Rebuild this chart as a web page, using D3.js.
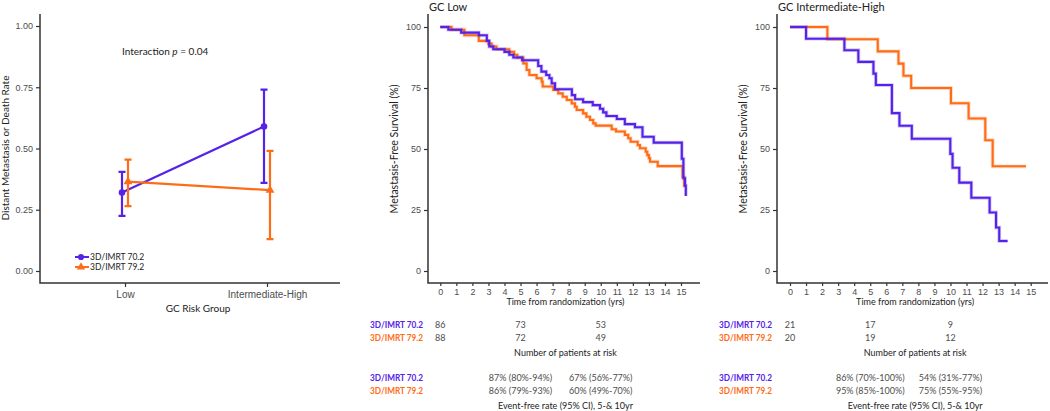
<!DOCTYPE html>
<html>
<head>
<meta charset="utf-8">
<script src="https://cdn.jsdelivr.net/npm/d3@7"></script>
<style>
  body { margin: 0; background: #fff; }
  svg { font-family: Lato, "Open Sans", sans-serif; }
</style>
</head>
<body>
<div id="chart"></div>
<script>
// Panel A: DM-or-death rate by GC risk group
const groups = ['Low', 'Intermediate-High'];
const rate702 = [0.32, 0.59];
const lo702 = [0.225, 0.36];
const hi702 = [0.405, 0.74];
const rate792 = [0.365, 0.33];
const lo792 = [0.265, 0.13];
const hi792 = [0.455, 0.49];
const rateTicks = [0, 0.25, 0.5, 0.75, 1];

// Panel B: GC Low, Kaplan-Meier steps (years, %)
const lowT702 = [0, 0.5, 1.3, 2.4, 2.9, 3.05, 3.3, 4.0, 4.3, 4.55, 5.1, 6.1, 6.3, 6.6, 6.8, 6.94, 7.15, 8.2, 8.4, 8.9, 9.5, 9.95, 10.15, 10.35, 11.0, 11.5, 12.13, 12.6, 13.3, 15.05, 15.15, 15.25, 15.3];
const lowS702 = [100, 98.9, 97.7, 96.6, 94.3, 92.0, 90.9, 89.8, 88.6, 87.5, 86.4, 84.0, 81.7, 80.3, 79.0, 76.9, 74.5, 72.1, 70.4, 69.2, 68.0, 66.5, 65.0, 63.5, 62.3, 60.2, 58.9, 55.0, 52.6, 46.0, 38.0, 35.0, 30.7];
const lowT792 = [0, 0.7, 1.5, 2.4, 3.0, 3.2, 3.5, 4.3, 4.6, 4.8, 5.17, 5.38, 5.55, 6.0, 6.32, 6.38, 7.04, 7.35, 7.63, 7.88, 8.19, 8.39, 8.5, 8.9, 9.1, 9.33, 9.53, 9.68, 10.68, 10.95, 11.5, 11.71, 11.86, 12.3, 12.44, 12.8, 12.9, 13.0, 13.07, 13.55, 15.1, 15.2, 15.25];
const lowS792 = [100, 98.9, 96.6, 94.3, 93.2, 92.0, 90.9, 89.8, 88.6, 87.5, 85.1, 82.4, 80.3, 79.0, 77.6, 75.6, 74.2, 72.8, 71.4, 70.1, 68.7, 67.3, 66.0, 64.6, 63.2, 61.9, 60.5, 59.6, 58.1, 57.2, 55.8, 54.4, 53.0, 51.6, 50.3, 48.9, 47.5, 46.2, 44.8, 43.0, 38.5, 35.0, 35.0];

// Panel C: GC Intermediate-High
const ihT702 = [0, 1.0, 3.39, 4.26, 5.2, 5.35, 6.35, 6.82, 7.59, 9.99, 10.13, 10.55, 11.3, 12.44, 12.84, 13.04, 13.56];
const ihS702 = [100, 95.2, 90.5, 85.7, 80.9, 76.2, 64.7, 59.5, 54.2, 48.0, 42.3, 36.2, 30.0, 24.0, 17.8, 12.3, 12.3];
const ihT792 = [0, 2.33, 5.47, 6.76, 7.07, 7.55, 10.03, 11.13, 12.17, 12.63, 14.71];
const ihS792 = [100, 95.0, 90.0, 85.0, 80.0, 75.0, 68.75, 62.5, 53.6, 42.9, 42.9];

const survTicks = [0, 25, 50, 75, 100];
const yearTicks = d3.range(0, 16);

// risk table + event-free rates
const riskTimes = [0, 5, 10];
const lowRisk702 = [86, 73, 53];
const lowRisk792 = [88, 72, 49];
const ihRisk702 = [21, 17, 9];
const ihRisk792 = [20, 19, 12];
const efsTimes = [5, 10];
const lowEfs702 = ['87% (80%-94%)', '67% (56%-77%)'];
const lowEfs792 = ['86% (79%-93%)', '60% (49%-70%)'];
const ihEfs702 = ['86% (70%-100%)', '54% (31%-77%)'];
const ihEfs792 = ['95% (85%-100%)', '75% (55%-95%)'];

const arms = ['3D/IMRT 70.2', '3D/IMRT 79.2'];
const BLUE = '#5522e8';
const ORANGE = '#ff6c17';
const AXIS = '#333';
const TICKTXT = '#4d4d4d';

const svg = d3.select('#chart').append('svg').attr('width', 1050).attr('height', 411);

function styleAxis(g) {
  g.select('.domain').remove();
  g.selectAll('.tick line').attr('stroke', AXIS).attr('stroke-width', 1.2);
  g.selectAll('.tick text').attr('fill', TICKTXT).style('font-size', '9px');
}

// ---------- Panel A ----------
(function () {
  const y = d3.scaleLinear().domain([0, 1]).range([271, 26]);
  const x = d3.scalePoint().domain(groups).range([125, 267]);
  const dodge = 3;

  svg.append('path')
    .attr('d', 'M40,14V283H340')
    .attr('fill', 'none').attr('stroke', AXIS).attr('stroke-width', 1.5);

  svg.append('g').attr('transform', 'translate(40,0)')
    .call(d3.axisLeft(y).tickValues(rateTicks).tickFormat(d3.format('.2f')).tickSize(4))
    .call(styleAxis);
  svg.append('g').attr('transform', 'translate(0,283)')
    .call(d3.axisBottom(x).tickSize(4).tickPadding(4))
    .call(styleAxis)
    .selectAll('.tick text').style('font-size', '10px');

  svg.append('text').attr('transform', 'translate(9,148) rotate(-90)')
    .attr('text-anchor', 'middle').style('font-size', '10px').attr('fill', '#222')
    .text('Distant Metastasis or Death Rate');
  svg.append('text').attr('x', 198).attr('y', 312)
    .attr('text-anchor', 'middle').style('font-size', '10px').attr('fill', '#222')
    .text('GC Risk Group');

  const it = svg.append('text').attr('x', 122).attr('y', 55)
    .style('font-size', '10px').attr('fill', '#222');
  it.append('tspan').text('Interaction ');
  it.append('tspan').style('font-style', 'italic').text('p');
  it.append('tspan').text(' = 0.04');

  const series = [
    { rate: rate702, lo: lo702, hi: hi702, color: BLUE, off: -dodge, shape: d3.symbolCircle },
    { rate: rate792, lo: lo792, hi: hi792, color: ORANGE, off: dodge, shape: d3.symbolTriangle }
  ];
  series.forEach(s => {
    const pts = groups.map((g, i) => ({ x: x(g) + s.off, v: s.rate[i], lo: s.lo[i], hi: s.hi[i] }));
    svg.append('path')
      .attr('d', d3.line().x(d => d.x).y(d => y(d.v))(pts))
      .attr('fill', 'none').attr('stroke', s.color).attr('stroke-width', 2.2);
    pts.forEach(p => {
      svg.append('path')
        .attr('d', `M${p.x},${y(p.lo)}V${y(p.hi)}M${p.x - 3.5},${y(p.lo)}H${p.x + 3.5}M${p.x - 3.5},${y(p.hi)}H${p.x + 3.5}`)
        .attr('fill', 'none').attr('stroke', s.color).attr('stroke-width', 2.2);
      svg.append('path').attr('transform', `translate(${p.x},${y(p.v)})`)
        .attr('d', d3.symbol().type(s.shape).size(34)()).attr('fill', s.color);
    });
  });

  // legend
  series.forEach((s, i) => {
    const ly = 257 + i * 10;
    svg.append('line').attr('x1', 75).attr('x2', 89).attr('y1', ly).attr('y2', ly)
      .attr('stroke', s.color).attr('stroke-width', 2);
    svg.append('path').attr('transform', `translate(81,${ly})`)
      .attr('d', d3.symbol().type(s.shape).size(30)()).attr('fill', s.color);
    svg.append('text').attr('x', 90).attr('y', ly + 3).style('font-size', '8.5px')
      .attr('fill', '#222').text(arms[i]);
  });
})();

// ---------- KM panels ----------
function kmPanel(opt) {
  const x = d3.scaleLinear().domain([0, 15]).range([opt.x0, opt.x0 + 240.7]);
  const y = d3.scaleLinear().domain([0, 100]).range([271, 27]);
  const ax = opt.axisX;

  svg.append('text').attr('x', ax + 1).attr('y', 11).style('font-size', '11px')
    .attr('fill', '#222').text(opt.title);

  svg.append('path')
    .attr('d', `M${ax},14V283H${opt.axisEnd}`)
    .attr('fill', 'none').attr('stroke', AXIS).attr('stroke-width', 1.5);

  svg.append('g').attr('transform', `translate(${ax},0)`)
    .call(d3.axisLeft(y).tickValues(survTicks).tickSize(4).tickPadding(3))
    .call(styleAxis);
  svg.append('g').attr('transform', 'translate(0,283)')
    .call(d3.axisBottom(x).tickValues(yearTicks).tickSize(3).tickPadding(3))
    .call(styleAxis);

  svg.append('text').attr('transform', `translate(${ax - 30},149) rotate(-90)`)
    .attr('text-anchor', 'middle').style('font-size', '10.5px').attr('fill', '#222')
    .text('Metastasis-Free Survival (%)');
  svg.append('text').attr('x', x(7.8)).attr('y', 305)
    .attr('text-anchor', 'middle').style('font-size', '9px').attr('fill', '#222')
    .text('Time from randomization (yrs)');

  const line = d3.line().curve(d3.curveStepAfter).x(d => x(d[0])).y(d => y(d[1]));
  const curves = [
    { t: opt.t792, s: opt.s792, color: ORANGE },
    { t: opt.t702, s: opt.s702, color: BLUE }
  ];
  curves.forEach(c => {
    const pts = c.t.map((t, i) => [t, c.s[i]]);
    svg.append('path').attr('d', line(pts)).attr('fill', 'none')
      .attr('stroke', c.color).attr('stroke-opacity', 0.25).attr('stroke-width', 3.8);
    svg.append('path').attr('d', line(pts)).attr('fill', 'none')
      .attr('stroke', c.color).attr('stroke-width', 2.1);
  });

  // risk table
  const rows = [
    { lab: arms[0], color: BLUE, risk: opt.risk702, efs: opt.efs702 },
    { lab: arms[1], color: ORANGE, risk: opt.risk792, efs: opt.efs792 }
  ];
  rows.forEach((r, i) => {
    [328, 381].forEach(y0 => {
      svg.append('text').attr('x', opt.labX).attr('y', y0 + i * 13)
        .attr('textLength', 53).attr('lengthAdjust', 'spacingAndGlyphs')
        .style('font-size', '10px').style('font-weight', 700).attr('fill', r.color).text(r.lab);
    });
    riskTimes.forEach((t, j) => {
      svg.append('text').attr('x', x(t)).attr('y', 328 + i * 13).attr('text-anchor', 'middle')
        .style('font-size', '9px').attr('fill', TICKTXT).text(r.risk[j]);
    });
    efsTimes.forEach((t, j) => {
      svg.append('text').attr('x', x(t)).attr('y', 381 + i * 13).attr('text-anchor', 'middle')
        .style('font-size', '9px').attr('fill', TICKTXT).text(r.efs[j]);
    });
  });
  svg.append('text').attr('x', x(7.8)).attr('y', 356).attr('text-anchor', 'middle')
    .style('font-size', '9px').attr('fill', '#222').text('Number of patients at risk');
  svg.append('text').attr('x', x(7.8)).attr('y', 409).attr('text-anchor', 'middle')
    .style('font-size', '9px').attr('fill', '#222').text('Event-free rate (95% CI), 5-& 10yr');
}

kmPanel({
  title: 'GC Low', x0: 440.3, axisX: 428, axisEnd: 700, labX: 370,
  t702: lowT702, s702: lowS702, t792: lowT792, s792: lowS792,
  risk702: lowRisk702, risk792: lowRisk792, efs702: lowEfs702, efs792: lowEfs792
});
kmPanel({
  title: 'GC Intermediate-High', x0: 790, axisX: 777, axisEnd: 1048, labX: 719,
  t702: ihT702, s702: ihS702, t792: ihT792, s792: ihS792,
  risk702: ihRisk702, risk792: ihRisk792, efs702: ihEfs702, efs792: ihEfs792
});
</script>
</body>
</html>
